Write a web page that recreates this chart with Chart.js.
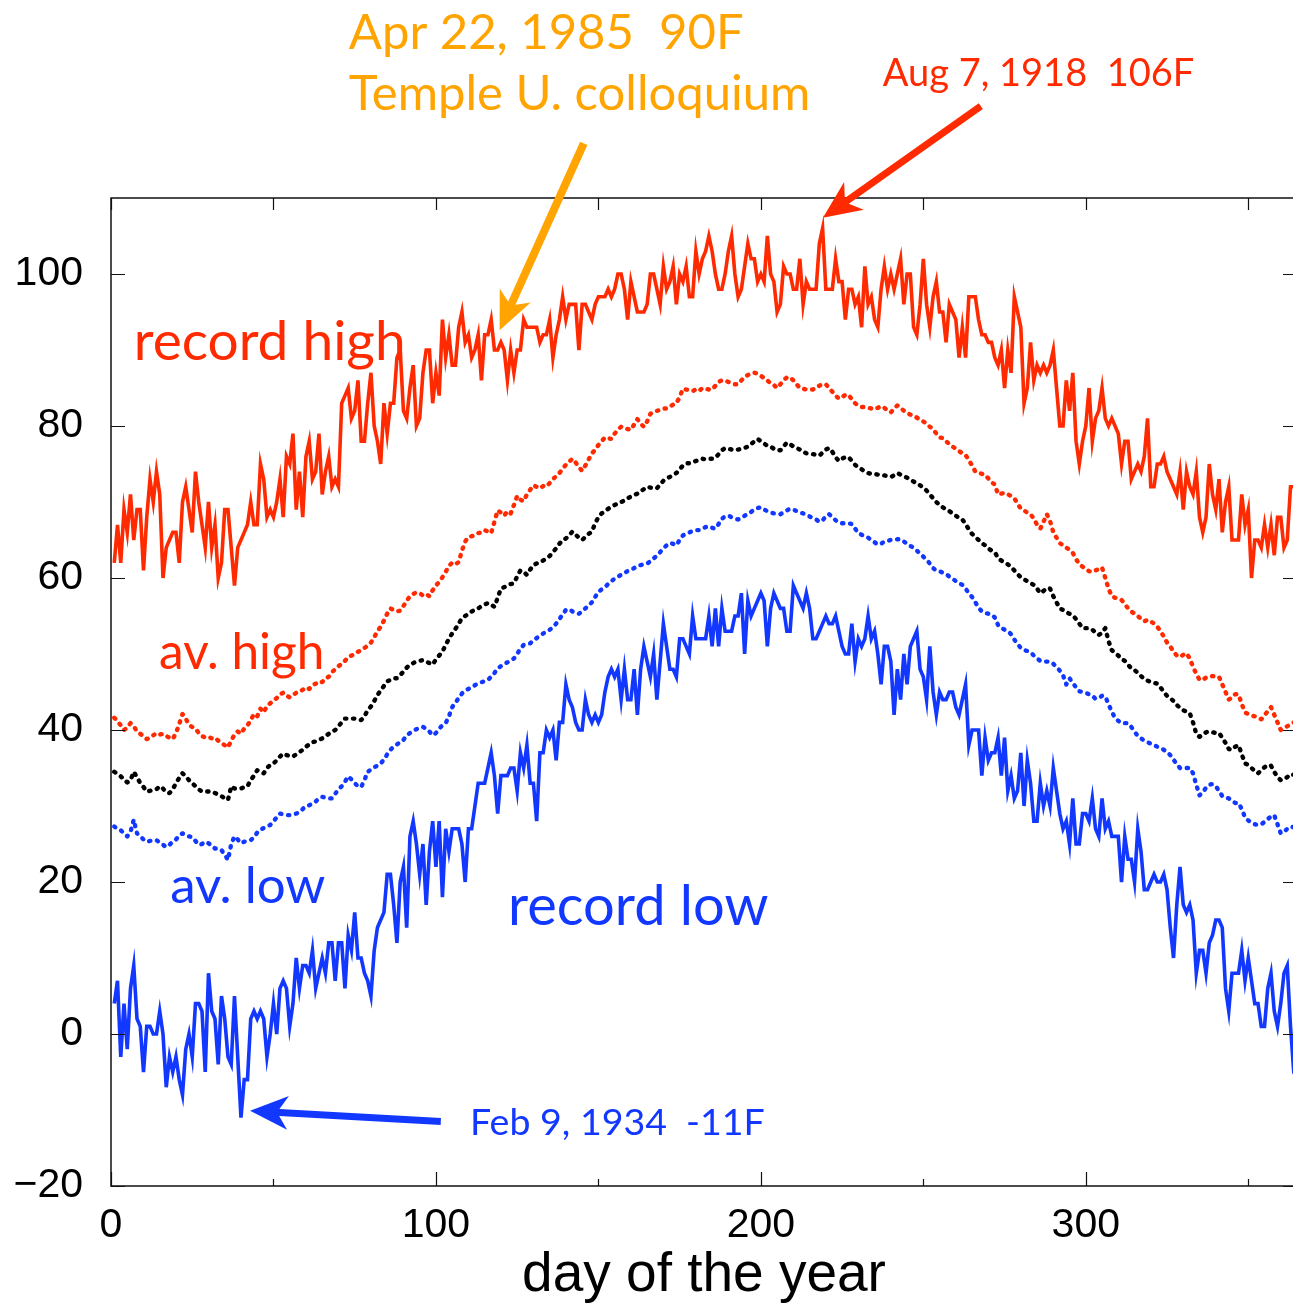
<!DOCTYPE html>
<html>
<head>
<meta charset="utf-8">
<title>Daily temperature records</title>
<script src="https://cdn.jsdelivr.net/npm/chart.js@4.4.1/dist/chart.umd.min.js"></script>
<style>
    html, body { margin: 0; padding: 0; background: #fff; overflow: hidden; }
    canvas { display: block; }
</style>
</head>
<body>
<canvas id="tempChart" width="1300" height="1304"></canvas>
<script>
// Daily temperatures (F) over the year: records and averages
const days = Array.from({ length: 365 }, (_, i) => i + 1);

const recordHigh = [
    62, 67, 62, 69, 66, 71, 65, 69, 69, 61,
    68, 73, 70, 74, 71, 60, 64, 65, 66, 66,
    62, 70, 72, 69, 66, 74, 70, 67, 64, 70,
    64, 67, 60, 62, 69, 69, 64, 59, 64, 65,
    66, 67, 70, 67, 67, 75, 73, 68, 69, 68,
    70, 73, 68, 76, 75, 79, 69, 74, 68, 76,
    78, 73, 74, 79, 71, 74, 76, 72, 73, 72,
    83, 84, 85, 81, 82, 86, 78, 78, 83, 87,
    80, 78, 75, 83, 79, 83, 83, 89, 90, 82,
    81, 85, 88, 80, 81, 87, 90, 90, 83, 87,
    84, 94, 89, 92, 88, 88, 93, 95, 91, 92,
    89, 90, 92, 86, 92, 92, 94, 90, 90, 91,
    90, 86, 90, 87, 90, 90, 94, 93, 93, 93,
    93, 91, 92, 92, 94, 89, 92, 94, 97, 94,
    96, 96, 96, 90, 96, 96, 95, 94, 96, 97,
    97, 97, 98, 97, 98, 100, 100, 98, 94, 99,
    97, 95, 95, 95, 96, 100, 100, 98, 96, 101,
    98, 99, 101, 96, 100, 99, 101, 97, 97, 103,
    100, 102, 103, 105, 103, 100, 98, 98, 100, 103,
    105, 100, 97, 98, 101, 104, 102, 102, 99, 100,
    99, 105, 100, 99, 95, 96, 101, 100, 100, 98,
    98, 102, 96, 99, 98, 98, 98, 104, 106, 98,
    98, 98, 102, 99, 99, 94, 98, 98, 96, 97,
    93, 101, 96, 97, 94, 93, 98, 101, 98, 100,
    98, 100, 102, 96, 100, 100, 93, 92, 96, 102,
    96, 93, 97, 99, 95, 95, 91, 96, 95, 94,
    89, 93, 89, 97, 97, 97, 94, 92, 92, 91,
    91, 89, 88, 90, 85, 90, 87, 97, 95, 93,
    83, 85, 91, 86, 88, 87, 88, 87, 88, 90,
    85, 80, 80, 86, 82, 87, 78, 75, 78, 80,
    85, 78, 81, 82, 85, 81, 80, 81, 80, 79,
    75, 78, 78, 73, 74, 75, 74, 76, 81, 72,
    72, 75, 75, 76, 74, 73, 72, 71, 74, 69,
    74, 72, 71, 74, 68, 66, 68, 75, 71, 69,
    73, 66, 70, 72, 65, 65, 65, 71, 67, 69,
    60, 65, 65, 64, 67, 64, 67, 63, 68, 68,
    64, 65, 72, 72, 72
];

const avgHigh = [
    41.6, 41.2, 40.6, 40.0, 40.3, 40.9, 40.5, 39.8, 39.5, 39.2,
    38.8, 39.0, 39.3, 39.6, 39.4, 39.5, 39.2, 39.0, 38.8, 39.6,
    40.8, 42.1, 41.5, 40.7, 40.4, 40.2, 39.6, 39.2, 39.0, 39.1,
    38.9, 39.0, 38.6, 38.3, 38.0, 37.7, 38.6, 39.4, 39.8, 39.5,
    40.2, 40.6, 41.3, 42.1, 41.8, 42.8, 42.3, 43.2, 43.5, 43.9,
    44.2, 44.7, 44.9, 44.5, 44.3, 44.6, 44.9, 45.0, 45.3, 45.6,
    45.4, 45.9, 46.1, 46.4, 46.3, 46.8, 47.0, 47.6, 48.0, 48.4,
    48.7, 49.1, 49.6, 49.8, 50.0, 50.3, 50.5, 50.8, 51.1, 51.5,
    52.2, 53.0, 53.6, 54.4, 55.3, 56.0, 55.8, 55.6, 55.7, 56.3,
    57.0, 57.6, 57.9, 58.1, 58.0, 57.7, 57.9, 57.6, 58.4, 59.0,
    59.5, 60.1, 60.8, 61.6, 62.0, 61.8, 62.1, 63.6, 64.8, 65.4,
    65.5, 65.6, 65.9, 66.0, 66.3, 66.1, 65.9, 67.4, 68.9, 68.6,
    68.2, 68.8, 68.5, 69.6, 70.8, 70.3, 70.1, 71.0, 71.6, 72.2,
    72.0, 71.8, 72.1, 72.0, 72.5, 73.0, 73.4, 73.8, 74.4, 74.9,
    75.3, 75.7, 75.2, 74.6, 74.1, 74.8, 75.6, 76.4, 76.9, 77.5,
    78.0, 78.5, 78.4, 78.3, 79.0, 79.5, 79.9, 79.7, 79.6, 79.5,
    80.2, 80.9, 80.3, 79.9, 80.6, 81.6, 81.8, 82.0, 82.1, 82.3,
    82.3, 82.6, 82.8, 83.0, 83.8, 84.9, 84.8, 84.7, 84.6, 84.8,
    84.6, 85.0, 84.9, 84.8, 84.8, 85.3, 85.8, 86.0, 86.0, 85.8,
    85.6, 85.5, 85.5, 86.0, 86.5, 86.7, 86.9, 87.0, 86.9, 86.6,
    86.3, 86.0, 85.6, 85.4, 85.0, 85.5, 86.0, 86.4, 86.4, 86.0,
    85.5, 85.0, 84.9, 84.8, 84.8, 84.8, 85.0, 85.3, 85.5, 85.5,
    85.0, 84.5, 84.0, 83.6, 83.8, 84.1, 84.1, 83.5, 83.0, 82.7,
    82.5, 82.5, 82.4, 82.3, 82.2, 82.4, 82.6, 82.4, 82.0, 81.8,
    82.3, 82.7, 82.4, 82.0, 81.7, 81.5, 81.4, 81.1, 80.8, 80.6,
    80.3, 79.9, 79.6, 79.0, 78.5, 78.4, 78.0, 77.6, 77.3, 77.0,
    76.7, 76.4, 76.2, 75.5, 74.8, 74.0, 73.9, 73.7, 73.6, 73.1,
    72.6, 72.3, 71.0, 71.1, 71.2, 71.0, 70.8, 70.5, 69.8, 69.1,
    68.9, 68.6, 68.4, 67.8, 67.0, 66.5, 67.4, 68.4, 67.5, 66.0,
    65.3, 64.6, 64.3, 64.0, 63.7, 63.3, 62.5, 61.8, 61.5, 61.2,
    60.9, 60.8, 61.0, 61.2, 61.4, 60.0, 58.6, 57.6, 57.4, 57.3,
    57.1, 56.6, 56.0, 55.6, 55.3, 55.0, 54.6, 54.3, 54.5, 54.3,
    54.0, 53.6, 53.0, 52.3, 51.5, 51.0, 50.3, 49.8, 49.6, 49.9,
    50.1, 49.4, 48.3, 47.4, 46.6, 46.6, 46.9, 47.0, 47.1, 47.0,
    47.0, 46.0, 45.0, 44.0, 44.3, 44.7, 44.7, 43.4, 42.3, 42.1,
    41.9, 41.8, 41.6, 41.4, 41.9, 42.5, 43.0, 42.0, 41.0, 40.0,
    40.2, 40.5, 40.7, 41.0, 40.9
];

const dailyMean = [
    34.5, 34.2, 33.9, 33.5, 33.1, 33.4, 34.5, 33.8, 33.0, 32.5,
    31.9, 32.0, 32.1, 32.2, 32.6, 32.3, 31.8, 31.7, 32.2, 33.0,
    33.7, 34.3, 33.9, 33.4, 33.0, 32.6, 32.2, 31.9, 31.9, 31.9,
    31.9, 31.7, 31.5, 31.3, 31.0, 30.8, 32.6, 32.3, 32.3, 32.3,
    32.5, 32.6, 33.4, 34.0, 34.7, 34.5, 34.3, 35.0, 35.4, 35.6,
    36.0, 36.5, 36.9, 36.7, 36.6, 36.5, 36.8, 37.1, 37.4, 37.8,
    38.1, 38.4, 38.5, 38.7, 38.9, 39.2, 39.5, 39.8, 40.0, 40.5,
    41.0, 41.5, 41.5, 41.5, 41.5, 41.4, 41.3, 41.8, 42.6, 43.1,
    43.8, 44.6, 45.2, 45.8, 46.4, 46.6, 46.8, 46.8, 47.2, 47.7,
    48.2, 48.6, 48.8, 49.0, 49.1, 49.2, 49.0, 48.8, 48.6, 49.3,
    49.8, 50.3, 51.2, 52.0, 52.7, 53.3, 54.0, 54.7, 55.0, 55.3,
    55.6, 55.8, 56.0, 56.3, 56.5, 56.7, 56.5, 56.2, 57.4, 58.6,
    58.8, 59.0, 59.2, 59.3, 60.2, 61.0, 60.8, 60.4, 61.1, 61.7,
    61.9, 62.1, 62.3, 62.6, 62.9, 63.4, 63.9, 64.5, 65.0, 65.2,
    65.6, 66.1, 65.7, 65.3, 65.0, 65.4, 65.8, 66.1, 67.2, 68.0,
    68.5, 68.8, 69.1, 69.4, 69.6, 69.8, 70.0, 70.2, 70.5, 70.7,
    70.9, 71.1, 71.4, 71.7, 72.0, 71.9, 71.8, 71.8, 72.3, 72.8,
    73.1, 73.3, 73.6, 73.8, 74.3, 74.8, 75.1, 75.1, 75.2, 75.4,
    75.5, 75.7, 75.6, 75.7, 75.7, 75.8, 76.3, 76.8, 77.1, 77.0,
    76.9, 76.8, 76.9, 77.0, 77.1, 77.3, 77.6, 78.0, 78.3, 78.0,
    77.7, 77.4, 77.3, 77.0, 76.8, 76.8, 77.3, 77.8, 77.6, 77.3,
    77.1, 76.9, 76.6, 76.4, 76.4, 76.3, 76.2, 76.1, 76.5, 76.9,
    77.1, 76.6, 75.9, 75.4, 75.7, 75.9, 75.9, 75.4, 74.9, 74.5,
    74.3, 74.0, 73.8, 73.7, 73.7, 73.6, 73.6, 73.5, 73.4, 73.3,
    73.5, 73.8, 73.6, 73.4, 73.2, 72.9, 72.7, 72.4, 72.2, 71.9,
    71.5, 71.0, 70.5, 70.0, 69.6, 69.3, 69.0, 68.8, 68.5, 68.2,
    67.9, 67.7, 67.1, 66.4, 65.8, 65.4, 65.0, 64.6, 64.3, 63.9,
    63.6, 63.4, 62.6, 62.3, 62.0, 61.8, 61.5, 61.0, 60.5, 60.1,
    59.8, 59.6, 59.3, 59.1, 58.6, 58.0, 58.3, 58.7, 58.6, 57.6,
    56.8, 56.0, 55.8, 55.5, 55.3, 55.1, 54.6, 54.0, 53.4, 53.4,
    53.4, 53.2, 52.8, 52.5, 52.8, 53.4, 51.7, 50.5, 50.1, 49.8,
    49.3, 49.1, 48.6, 48.1, 47.9, 47.5, 47.1, 46.7, 46.5, 46.3,
    46.2, 46.1, 45.6, 45.0, 44.5, 44.2, 43.8, 43.3, 42.9, 42.6,
    42.4, 42.2, 41.0, 39.5, 39.1, 39.4, 39.7, 39.8, 39.7, 39.6,
    39.6, 39.0, 38.3, 37.5, 37.4, 37.8, 38.0, 36.8, 35.6, 35.4,
    35.0, 34.6, 34.3, 34.7, 35.1, 35.4, 35.3, 34.5, 33.8, 33.4,
    33.5, 33.8, 34.2, 34.1, 33.9
];

const avgLow = [
    27.3, 27.0, 26.8, 26.4, 26.0, 26.6, 28.2, 26.4, 26.0, 25.6,
    25.3, 25.4, 25.5, 25.5, 25.2, 24.9, 24.6, 24.9, 25.3, 25.6,
    26.1, 26.4, 26.2, 26.0, 25.9, 25.4, 24.9, 25.0, 25.3, 25.1,
    24.8, 24.4, 24.4, 24.2, 23.6, 22.9, 25.0, 26.0, 25.6, 25.1,
    25.3, 25.4, 25.5, 25.9, 26.5, 26.9, 27.1, 27.3, 27.5, 28.0,
    28.5, 29.0, 28.9, 28.8, 28.8, 28.9, 29.0, 29.2, 29.6, 30.0,
    30.1, 30.3, 30.6, 31.0, 31.2, 31.1, 31.0, 31.0, 31.6, 32.2,
    32.6, 33.2, 33.9, 33.5, 33.0, 32.6, 32.5, 33.4, 34.5, 34.8,
    35.1, 35.3, 35.6, 36.1, 36.8, 37.4, 37.8, 38.1, 38.4, 38.7,
    39.3, 39.6, 39.9, 40.1, 40.3, 40.4, 40.2, 39.8, 39.3, 39.6,
    40.2, 40.6, 40.9, 41.8, 43.0, 43.6, 44.2, 44.8, 45.2, 45.4,
    45.6, 45.9, 46.1, 46.3, 46.4, 46.6, 47.0, 47.5, 48.1, 48.4,
    48.7, 48.9, 49.2, 49.4, 50.0, 50.7, 51.2, 51.3, 51.4, 51.8,
    52.1, 52.4, 52.7, 52.9, 53.2, 53.5, 54.0, 54.6, 55.2, 55.8,
    55.9, 55.6, 55.4, 55.3, 55.6, 56.0, 56.4, 56.8, 57.5, 58.2,
    58.5, 58.8, 59.2, 59.6, 59.9, 60.2, 60.4, 60.7, 60.9, 61.1,
    61.3, 61.6, 61.7, 61.8, 61.9, 62.2, 62.6, 62.9, 63.4, 63.9,
    64.3, 64.6, 64.5, 64.3, 65.0, 65.6, 65.8, 66.0, 66.2, 66.3,
    66.3, 66.5, 66.7, 66.8, 66.6, 66.5, 67.1, 67.8, 68.1, 68.2,
    68.0, 67.8, 67.7, 67.9, 68.2, 68.4, 68.7, 69.0, 69.2, 69.3,
    69.0, 68.8, 68.6, 68.5, 68.4, 68.4, 68.6, 68.9, 69.1, 69.0,
    68.8, 68.6, 68.5, 68.3, 68.1, 67.9, 67.7, 67.4, 67.6, 68.1,
    68.4, 68.0, 67.6, 67.3, 67.2, 67.2, 67.2, 67.1, 66.5, 65.9,
    65.7, 65.5, 65.3, 65.0, 64.7, 64.4, 64.5, 64.8, 64.9, 65.0,
    65.0, 65.1, 65.1, 64.8, 64.5, 64.2, 64.0, 63.6, 63.2, 62.8,
    62.4, 61.9, 61.3, 61.0, 60.9, 60.7, 60.5, 60.2, 59.9, 59.6,
    59.3, 59.1, 58.6, 58.0, 57.5, 56.8, 56.1, 55.6, 55.4, 55.3,
    55.2, 54.8, 53.8, 53.4, 53.2, 53.0, 52.6, 51.9, 51.3, 50.8,
    50.5, 50.4, 50.2, 49.8, 49.4, 49.1, 49.0, 49.0, 49.0, 48.7,
    48.3, 47.8, 47.2, 46.0, 46.8, 46.2, 45.6, 45.1, 45.0, 44.9,
    44.7, 44.5, 44.1, 44.2, 44.5, 44.4, 43.4, 42.4, 41.6, 41.2,
    40.9, 40.9, 40.9, 40.4, 39.8, 39.2, 38.9, 38.6, 38.4, 38.2,
    38.0, 37.8, 37.6, 37.4, 37.1, 36.7, 36.1, 35.5, 35.0, 35.0,
    35.0, 35.0, 34.3, 32.8, 31.4, 31.8, 32.4, 32.8, 32.9, 32.6,
    32.0, 31.3, 31.1, 31.0, 30.7, 30.4, 30.4, 29.6, 28.5, 28.1,
    27.8, 27.6, 27.5, 27.6, 27.9, 28.3, 28.6, 28.8, 27.6, 26.4,
    26.6, 27.0, 27.3, 27.2, 27.0
];

const recordLow = [
    4, 7, -3, 4, -2, 6, 9, 2, 1, -5,
    1, 1, 0, 0, 3, 0, -7, -3, -5, -3,
    -6, -8, -2, 0, -3, 4, 4, 3, -5, 8,
    3, 2, -4, 5, 2, -3, -4, 5, -3, -11,
    -6, -6, 2, 3, 2, 3, 2, -3, 0, 4,
    0, 6, 7, 6, 1, 4, 10, 6, 9, 9,
    8, 11, 6, 8, 10, 8, 12, 12, 7, 12,
    12, 6, 13, 11, 16, 10, 10, 8, 7, 5,
    11, 14, 15, 16, 21, 21, 17, 12, 20, 22,
    14, 26, 28, 25, 21, 25, 17, 24, 28, 22,
    28, 18, 27, 24, 27, 27, 27, 25, 20, 27,
    27, 30, 33, 33, 33, 35, 37, 34, 29, 34,
    34, 34, 35, 35, 32, 37, 35, 38, 33, 33,
    28, 37, 37, 40, 39, 40, 36, 41, 41, 46,
    44, 43, 41, 40, 40, 44, 42, 41, 42, 41,
    42, 45, 47, 48, 47, 48, 44, 48, 44, 44,
    48, 42, 48, 51, 49, 47, 50, 44, 49, 54,
    51, 48, 48, 47, 52, 52, 51, 50, 55, 52,
    52, 52, 52, 55, 51, 56, 51, 56, 53, 53,
    53, 55, 55, 58, 50, 57, 55, 56, 57, 58,
    57, 51, 56, 58, 57, 56, 56, 53, 53, 59,
    58, 57, 56, 58, 56, 52, 52, 53, 54, 55,
    54, 54, 55, 53, 51, 50, 50, 54, 49, 52,
    51, 52, 55, 52, 53, 50, 46, 51, 51, 49,
    42, 48, 44, 50, 46, 51, 52, 53, 48, 47,
    44, 51, 45, 42, 45, 44, 44, 45, 45, 43,
    42, 44, 46, 38, 40, 40, 40, 34, 39, 36,
    37, 37, 39, 34, 39, 32, 34, 31, 32, 37,
    30, 36, 33, 28, 28, 33, 30, 32, 30, 35,
    32, 29, 27, 28, 25, 31, 25, 25, 29, 29,
    28, 31, 27, 26, 31, 27, 28, 26, 26, 26,
    20, 26, 23, 23, 20, 27, 24, 19, 19, 20,
    21, 20, 20, 21, 19, 14, 10, 17, 22, 17,
    16, 17, 15, 8, 11, 11, 8, 12, 13, 15,
    15, 14, 6, 3, 8, 8, 8, 11, 7, 10,
    7, 4, 4, 1, 1, 6, 8, 3, 1, 4,
    8, 9, 1, -5, -6
];

const xTickStep = 50;
const yTickStep = 20;

const RED = '#ff2a00';
const BLUE = '#1238ff';
const ORANGE = '#ffa400';
const BLACK = '#000000';
const TICK_FONT = "'Liberation Sans', Arial, sans-serif";
const NOTE_FONT = "Lato, 'Open Sans', sans-serif";

// Curve names written next to the lines (day / temperature of the text baseline start)
const curveNames = [
    { text: 'record high', day: 7, temp: 88.7, size: 55, color: RED },
    { text: 'av. high', day: 14.8, temp: 48.0, size: 49.5, color: RED },
    { text: 'av. low', day: 18.2, temp: 17.2, size: 51, color: BLUE },
    { text: 'record low', day: 122.2, temp: 14.3, size: 56, color: BLUE }
];

// Callouts for the extreme days, arrows run from tail to tip
const callouts = [
    {
        lines: ['Apr 22, 1985  90F', 'Temple U. colloquium'],
        day: 73.2, temps: [129.6, 121.6], size: 49, color: ORANGE,
        tail: [145.5, 117.2], tip: [119.6, 92.6], width: 8
    },
    {
        lines: ['Aug 7, 1918  106F'],
        day: 237.5, temps: [124.7], size: 38, color: RED,
        tail: [267.7, 122.1], tip: [219.1, 107.4], width: 7
    },
    {
        lines: ['Feb 9, 1934  -11F'],
        day: 110.5, temps: [-13.3], size: 37.5, color: BLUE,
        tail: [101.5, -11.5], tip: [42.8, -10.1], width: 7
    }
];

function toPoints(values) {
    return days.map((d, i) => ({ x: d, y: values[i] }));
}

function solidSeries(label, values, color) {
    return {
        label,
        data: toPoints(values),
        borderColor: color,
        borderWidth: 3.6,
        borderJoinStyle: 'miter',
        pointRadius: 0,
        tension: 0,
        fill: false
    };
}

function dottedSeries(label, values, color) {
    return {
        label,
        data: toPoints(values),
        borderColor: color,
        borderWidth: 4.4,
        borderDash: [1.3, 6.7],
        borderCapStyle: 'round',
        borderJoinStyle: 'round',
        pointRadius: 0,
        tension: 0,
        fill: false
    };
}

function drawArrow(ctx, x0, y0, x1, y1, color, width) {
    const ang = Math.atan2(y1 - y0, x1 - x0);
    const ux = Math.cos(ang), uy = Math.sin(ang);
    const px = -uy, py = ux;
    const headLen = 38, headHalf = 17, notch = 27;
    const bx = x1 - ux * headLen, by = y1 - uy * headLen;
    const nx = x1 - ux * notch, ny = y1 - uy * notch;

    ctx.save();
    ctx.strokeStyle = color;
    ctx.fillStyle = color;
    ctx.lineWidth = width;
    ctx.lineCap = 'butt';
    ctx.beginPath();
    ctx.moveTo(x0, y0);
    ctx.lineTo(nx + ux * 2, ny + uy * 2);
    ctx.stroke();

    ctx.beginPath();
    ctx.moveTo(x1, y1);
    ctx.lineTo(bx + px * headHalf, by + py * headHalf);
    ctx.lineTo(nx, ny);
    ctx.lineTo(bx - px * headHalf, by - py * headHalf);
    ctx.closePath();
    ctx.fill();
    ctx.restore();
}

// Box frame with inward tick marks on all four sides
const frameTicks = {
    id: 'frameTicks',
    afterDatasetsDraw(chart) {
        const { ctx, chartArea: a, scales: { x, y } } = chart;
        ctx.save();
        ctx.strokeStyle = '#111';
        ctx.lineWidth = 1.5;
        ctx.strokeRect(a.left, a.top, a.right - a.left, a.bottom - a.top);

        ctx.beginPath();
        x.ticks.forEach(t => {
            if (t.value % xTickStep !== 0) return;
            const px = Math.round(x.getPixelForValue(t.value)) + 0.5;
            const major = t.value % 100 === 0;
            ctx.moveTo(px, a.bottom);
            ctx.lineTo(px, a.bottom - (major ? 14 : 7));
            ctx.moveTo(px, a.top);
            ctx.lineTo(px, a.top + 12);
        });
        y.ticks.forEach(t => {
            if (t.value % yTickStep !== 0) return;
            const py = Math.round(y.getPixelForValue(t.value)) + 0.5;
            ctx.moveTo(a.left, py);
            ctx.lineTo(a.left + 14, py);
            ctx.moveTo(a.right, py);
            ctx.lineTo(a.right - 14, py);
        });
        ctx.lineWidth = 1.2;
        ctx.stroke();
        ctx.restore();
    }
};

const notes = {
    id: 'notes',
    afterDraw(chart) {
        const { ctx, scales: { x, y } } = chart;
        ctx.save();
        ctx.textAlign = 'left';
        ctx.textBaseline = 'alphabetic';

        curveNames.forEach(n => {
            ctx.font = `${n.size}px ${NOTE_FONT}`;
            ctx.fillStyle = n.color;
            ctx.fillText(n.text, x.getPixelForValue(n.day), y.getPixelForValue(n.temp));
        });

        callouts.forEach(c => {
            ctx.font = `${c.size}px ${NOTE_FONT}`;
            ctx.fillStyle = c.color;
            c.lines.forEach((line, i) => {
                ctx.fillText(line, x.getPixelForValue(c.day), y.getPixelForValue(c.temps[i]));
            });
            drawArrow(ctx,
                x.getPixelForValue(c.tail[0]), y.getPixelForValue(c.tail[1]),
                x.getPixelForValue(c.tip[0]), y.getPixelForValue(c.tip[1]),
                c.color, c.width);
        });
        ctx.restore();
    }
};

new Chart(document.getElementById('tempChart'), {
    type: 'line',
    data: {
        datasets: [
            solidSeries('record high', recordHigh, RED),
            dottedSeries('av. high', avgHigh, RED),
            dottedSeries('mean', dailyMean, BLACK),
            dottedSeries('av. low', avgLow, BLUE),
            solidSeries('record low', recordLow, BLUE)
        ]
    },
    options: {
        responsive: false,
        animation: false,
        devicePixelRatio: 1,
        layout: { padding: { top: 198, right: 3, left: 0, bottom: 0 } },
        plugins: {
            legend: { display: false },
            tooltip: { enabled: false }
        },
        scales: {
            x: {
                type: 'linear',
                min: 0,
                max: 365,
                grid: { display: false, drawTicks: false },
                border: { display: false },
                ticks: {
                    stepSize: xTickStep,
                    includeBounds: false,
                    autoSkip: false,
                    maxRotation: 0,
                    padding: 15,
                    color: '#000',
                    font: { family: TICK_FONT, size: 41 },
                    callback: v => (v % 100 === 0 ? String(v) : '')
                },
                title: {
                    display: true,
                    text: 'day of the year',
                    color: '#000',
                    font: { family: TICK_FONT, size: 55 },
                    padding: { top: 0, bottom: -5 }
                },
                afterFit: scale => { scale.height = 118; }
            },
            y: {
                min: -20,
                max: 110,
                grid: { display: false, drawTicks: false },
                border: { display: false },
                ticks: {
                    stepSize: yTickStep,
                    includeBounds: false,
                    padding: 28,
                    color: '#000',
                    font: { family: TICK_FONT, size: 41 },
                    callback: v => (v % yTickStep !== 0 ? '' : v < 0 ? '\u2212' + Math.abs(v) : String(v))
                },
                afterFit: scale => { scale.width = 111; }
            }
        }
    },
    plugins: [frameTicks, notes]
});
</script>
</body>
</html>
